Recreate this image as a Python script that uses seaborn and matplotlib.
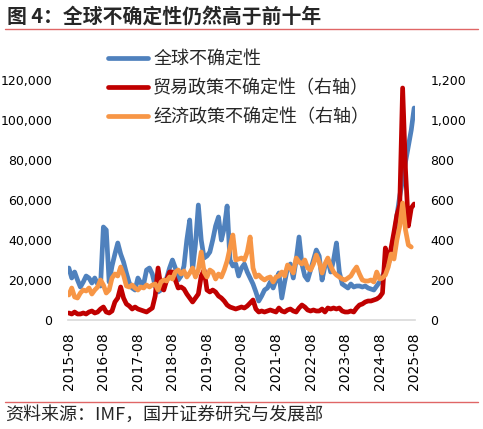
import numpy as np
import pandas as pd
import matplotlib
matplotlib.use("Agg")
import matplotlib.pyplot as plt
from matplotlib.lines import Line2D
from matplotlib.ticker import FuncFormatter
import seaborn as sns

# monthly data 2015-08 .. 2025-08
months = pd.date_range("2015-08-01", "2025-08-01", freq="MS")

# 全球不确定性 (left axis)
global_unc = [
    26000, 21000, 24000, 20000, 16500, 19000, 22000, 21000, 18500, 21000, 18000, 17000,
    46500, 45000, 19000, 27000, 33000, 38500, 33000, 29000, 23500, 18500, 16000, 15000,
    21000, 18500, 18000, 25000, 26000, 23000, 17000, 14000, 15000, 18000, 21000, 26000,
    30000, 26000, 20000, 22000, 27000, 40000, 50000, 25000, 38000, 57500, 40000, 31000,
    32000, 34000, 40000, 47000, 51500, 40000, 46000, 57000, 30000, 27000, 28000, 22000,
    26000, 28000, 24000, 21000, 18000, 14000, 9500, 12000, 15000, 16000, 19000, 16000,
    20000, 23500, 11000, 19000, 26000, 28000, 21000, 30000, 41500, 28000, 22000, 20000,
    25000, 30000, 35000, 32000, 20000, 27000, 30000, 24000, 30000, 38500, 24000, 18000,
    17000, 16000, 18000, 16500, 17000, 17000, 16500, 17000, 16000, 15500, 15000, 17000,
    19000, 22000, 25000, 28000, 32000, 40000, 52000, 62000, 70000, 79000, 87000, 95000,
    106000,
]

# 贸易政策不确定性 (right axis)
trade_unc = [
    35, 30, 40, 30, 30, 35, 30, 40, 45, 35, 40, 55,
    65, 40, 35, 45, 90, 110, 165, 110, 80, 70, 55, 65,
    55, 50, 45, 40, 50, 60, 120, 260, 165, 150, 200, 240,
    240, 200, 160, 165, 155, 130, 110, 90, 110, 130, 220, 250,
    150, 140, 150, 140, 120, 110, 95, 75, 65, 60, 55, 60,
    65, 60, 70, 85, 100, 55, 40, 45, 40, 45, 50, 45,
    40, 60, 45, 40, 50, 55, 45, 40, 60, 75, 65, 50,
    45, 50, 45, 45, 55, 40, 60, 55, 60, 55, 60, 45,
    40, 40, 45, 40, 60, 75, 80, 90, 95, 95, 100, 105,
    115, 135, 360, 290, 360, 440, 525, 575, 1160, 750, 470, 560,
    580,
]

# 经济政策不确定性 (right axis)
econ_unc = [
    125, 160, 115, 110, 135, 150, 145, 160, 130, 150, 165, 200,
    175, 135, 150, 210, 230, 220, 265, 225, 170, 165, 175, 160,
    150, 165, 160, 175, 165, 175, 180, 150, 190, 200, 195, 215,
    205, 240, 250, 230, 245, 215, 235, 260, 215, 250, 340, 240,
    215, 250, 240, 205, 230, 215, 250, 295, 360, 425, 300, 305,
    310, 300, 340, 415, 260, 215, 225, 210, 200, 210, 215, 190,
    215, 220, 240, 220, 275, 260, 235, 310, 290, 280, 300, 260,
    250, 280, 325, 290, 235, 280, 310, 270, 240, 225, 215, 205,
    200, 210, 220, 245, 265, 230, 200, 195, 195, 200, 190, 240,
    205, 210, 225, 265, 330, 305, 400, 470, 585, 450, 375, 365,
    np.nan,
]

labels = ["全球不确定性", "贸易政策不确定性（右轴）", "经济政策不确定性（右轴）"]
colors = ["#4F81BD", "#C00000", "#F79646"]

df = pd.DataFrame({
    "idx": np.arange(len(months)),
    "global": global_unc,
    "trade": trade_unc,
    "econ": econ_unc,
})

sns.set_style("white")
plt.rcParams["font.family"] = ["Noto Sans CJK SC", "DejaVu Sans"]

W, H = 483, 429
fig = plt.figure(figsize=(W / 100, H / 100), dpi=100)
ax = fig.add_axes([68 / W, 1 - 320 / H, (415 - 68) / W, (320 - 80) / H])
ax2 = ax.twinx()

lw = 3.4
sns.lineplot(data=df, x="idx", y="global", ax=ax, color=colors[0], linewidth=lw,
             label=labels[0], legend=False)
sns.lineplot(data=df, x="idx", y="trade", ax=ax2, color=colors[1], linewidth=lw,
             label=labels[1], legend=False)
sns.lineplot(data=df, x="idx", y="econ", ax=ax2, color=colors[2], linewidth=lw,
             label=labels[2], legend=False)

ax.set_xlim(-0.3, len(months) - 0.7)
ax.set_ylim(0, 120000)
ax2.set_ylim(0, 1200)
ax.set_yticks(np.arange(0, 120001, 20000))
ax2.set_yticks(np.arange(0, 1201, 200))
ax.yaxis.set_major_formatter(FuncFormatter(lambda v, p: f"{v:,.0f}"))
ax2.yaxis.set_major_formatter(FuncFormatter(lambda v, p: f"{v:,.0f}"))

tick_idx = np.arange(0, len(months), 12)
ax.set_xticks(tick_idx)
ax.set_xticklabels([months[i].strftime("%Y-%m") for i in tick_idx], rotation=90)

ax.set_xlabel("")
ax.set_ylabel("")
ax2.set_ylabel("")

for a in (ax, ax2):
    for s in a.spines.values():
        s.set_visible(False)
    a.grid(False)
ax.spines["bottom"].set_visible(True)
ax.spines["bottom"].set_color("#D9D9D9")
ax.spines["bottom"].set_linewidth(1.2)

ax.tick_params(axis="x", length=0, pad=9, labelsize=10)
ax.tick_params(axis="y", length=0, pad=11.3, labelsize=9)
ax2.tick_params(axis="y", length=0, pad=11, labelsize=9)
for t in ax.get_xticklabels() + ax.get_yticklabels() + ax2.get_yticklabels():
    t.set_fontfamily("DejaVu Sans")
    t.set_color("black")

handles = ax.get_lines()[:1] + ax2.get_lines()[:2]
fig.legend(handles, labels, loc="upper left", bbox_to_anchor=(108 / W, 1 - 50 / H),
           frameon=False, fontsize=13, handlelength=2.2, handletextpad=0.3,
           labelspacing=0.62, borderpad=0, borderaxespad=0)

# title and source
fig.text(7 / W, 1 - 16 / H, "图 4：全球不确定性仍然高于前十年", fontsize=14.3,
         fontweight="bold", va="center", ha="left")
fig.add_artist(Line2D([5 / W, 478 / W], [1 - 29 / H, 1 - 29 / H], color="#E06666", lw=1))
fig.add_artist(Line2D([5 / W, 478 / W], [1 - 402 / H, 1 - 402 / H], color="#E06666", lw=1))
fig.text(5 / W, 1 - 415 / H, "资料来源：IMF，国开证券研究与发展部", fontsize=13,
         va="center", ha="left")

fig.savefig("out.png", dpi=100)
